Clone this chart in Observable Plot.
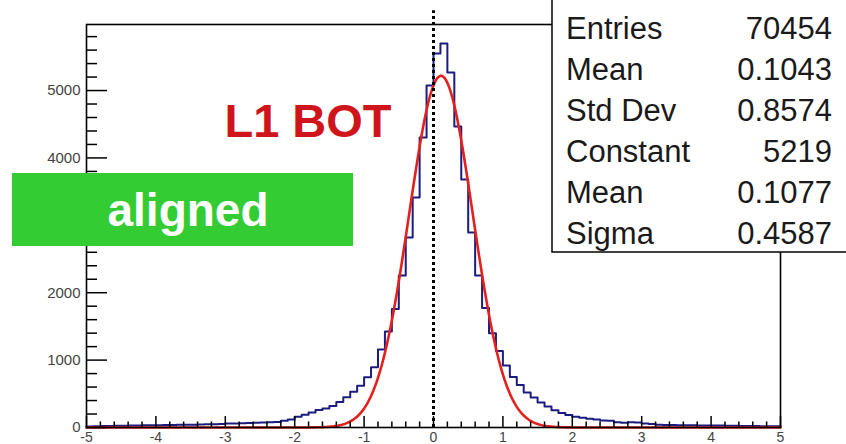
<!DOCTYPE html>
<html>
<head>
<meta charset="utf-8">
<script src="https://cdn.jsdelivr.net/npm/d3@7"></script>
<script src="https://cdn.jsdelivr.net/npm/@observablehq/plot@0.6"></script>
<style>
  html, body { margin: 0; padding: 0; background: #fff; }
  #wrap { position: relative; width: 846px; height: 444px; overflow: hidden; font-family: "Liberation Sans", Arial, sans-serif; }
  #overlay { position: absolute; left: 0; top: 0; pointer-events: none; }
</style>
</head>
<body>
<div id="wrap">
  <div id="chart"></div>
</div>
<script>
// ---- data ----
const binLow = -5, binHigh = 5, binWidth = 0.1;
const counts = [
  14, 18, 22, 24, 25, 26, 28, 30, 32, 34,
  35, 36, 37, 39, 40, 42, 44, 47, 50, 52,
  58, 60, 63, 66, 70, 74, 78, 82, 100, 118,
  160, 190, 222, 258, 282, 320, 380, 450, 530, 620,
  747, 895, 1157, 1424, 1760, 2255, 2819, 3412, 4303, 5074,
  5549, 5697, 5267, 4466, 3680, 2893, 2255, 1775, 1400, 1135,
  920, 750, 630, 520, 445, 370, 310, 255, 215, 185,
  160, 145, 130, 120, 105, 100, 78, 70, 78, 74,
  58, 52, 42, 38, 36, 35, 33, 32, 31, 30,
  29, 28, 26, 25, 24, 23, 22, 20, 19, 17
];
// Gaussian fit parameters shown in the stats box
const fitConstant = 5219, fitMean = 0.1077, fitSigma = 0.4587;
const statLabels = ["Entries", "Mean", "Std Dev", "Constant", "Mean", "Sigma"];
const statValues = ["70454", "0.1043", "0.8574", "5219", "0.1077", "0.4587"];
const xMajorTicks = [-5, -4, -3, -2, -1, 0, 1, 2, 3, 4, 5];
const yMajorTicks = [0, 1000, 2000, 3000, 4000, 5000];
const markerX = [0];
const plotTitle = "L1 BOT";
const statusLabel = "aligned";

// ---- derived tables ----
const histPts = counts.map((c, i) => ({x: binLow + i * binWidth, y: c}));
histPts.push({x: binHigh, y: counts[counts.length - 1]});
const fitPts = d3.range(binLow, binHigh + 1e-9, 0.02).map(x => ({
  x, y: fitConstant * Math.exp(-0.5 * ((x - fitMean) / fitSigma) ** 2)
}));
const xMinor = d3.range(-4.8, 5, 0.2).map(v => Math.round(v * 10) / 10).filter(v => Math.abs(v - Math.round(v)) > 1e-6);
const yMinor = d3.range(200, 5980, 200).filter(v => v % 1000 !== 0);

const W = 846, H = 444, mL = 86, mR = 66, mT = 24, mB = 17;
const pw = W - mL - mR, ph = H - mT - mB;

const chart = Plot.plot({
  width: W, height: H,
  marginLeft: mL, marginRight: mR, marginTop: mT, marginBottom: mB,
  x: {domain: [binLow, binHigh], label: null},
  y: {domain: [0, 5980], label: null},
  style: {fontFamily: "'Liberation Sans', Arial, sans-serif", background: "transparent", overflow: "visible"},
  marks: [
    Plot.line(histPts, {x: "x", y: "y", curve: "step-after", stroke: "#1c1c80", strokeWidth: 2}),
    Plot.line(fitPts, {x: "x", y: "y", stroke: "#e3211c", strokeWidth: 2.6}),
    Plot.frame({stroke: "#000", strokeWidth: 1.6}),
    Plot.tickY(yMajorTicks, {y: d => d, stroke: "#000", strokeWidth: 1.5, insetRight: pw - 21}),
    Plot.tickY(yMinor, {y: d => d, stroke: "#000", strokeWidth: 1.5, insetRight: pw - 11}),
    Plot.ruleX(xMajorTicks, {x: d => d, stroke: "#000", strokeWidth: 1.5, insetTop: ph - 11}),
    Plot.ruleX(xMinor, {x: d => d, stroke: "#000", strokeWidth: 1.5, insetTop: ph - 5.5}),
    Plot.ruleX(markerX, {x: d => d, y1: 0, y2: 6185, stroke: "#000", strokeWidth: 3, strokeDasharray: "3,3"}),
    Plot.axisY(yMajorTicks, {tickSize: 0, tickPadding: 6, fontSize: 15, color: "#444", label: null,
      tickFormat: d => String(d)}),
    Plot.axisX(xMajorTicks, {tickSize: 0, tickPadding: 5, fontSize: 14, color: "#444", label: null,
      tickFormat: d => d < 0 ? "-" + Math.abs(d) : String(d)})
  ]
});
document.getElementById("chart").appendChild(chart);

// ---- annotations overlay ----
const ns = "http://www.w3.org/2000/svg";
const ov = d3.select("#wrap").append("svg").attr("id", "overlay")
  .attr("width", W).attr("height", H).attr("xmlns", ns);
const font = "'Liberation Sans', Arial, sans-serif";

// stats box
ov.append("rect").attr("x", 552).attr("y", -5).attr("width", 320).attr("height", 257)
  .attr("fill", "#fff").attr("stroke", "#000").attr("stroke-width", 1.5);
statLabels.forEach((lab, i) => {
  const yb = 39 + 41 * i;
  ov.append("text").attr("x", 566).attr("y", yb).attr("font-family", font).attr("font-size", 31)
    .attr("fill", "#1a1a1a").text(lab);
  ov.append("text").attr("x", 832).attr("y", yb).attr("font-family", font).attr("font-size", 31)
    .attr("text-anchor", "end").attr("fill", "#1a1a1a").text(statValues[i]);
});

// title
ov.append("text").attr("x", 308).attr("y", 137).attr("font-family", font).attr("font-size", 47)
  .attr("font-weight", "bold").attr("text-anchor", "middle").attr("fill", "#d0141c").text(plotTitle);

// green status badge
ov.append("rect").attr("x", 12).attr("y", 173).attr("width", 341).attr("height", 73).attr("fill", "#33cc33");
ov.append("text").attr("x", 188).attr("y", 226).attr("font-family", font).attr("font-size", 46)
  .attr("font-weight", "bold").attr("text-anchor", "middle").attr("fill", "#fff").text(statusLabel);
</script>
</body>
</html>
